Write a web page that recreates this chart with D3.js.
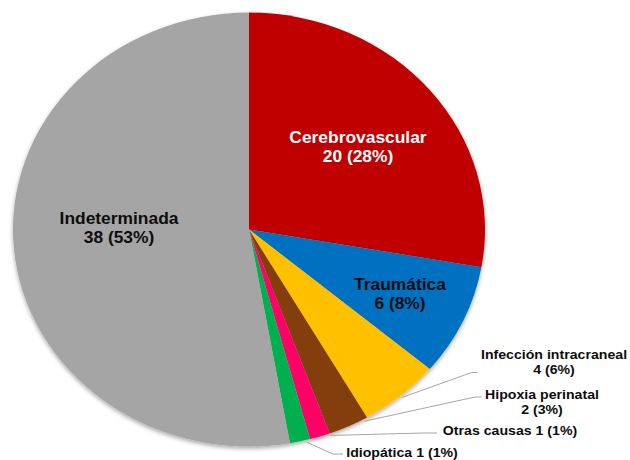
<!DOCTYPE html>
<html>
<head>
<meta charset="utf-8">
<script src="https://cdn.jsdelivr.net/npm/d3@7"></script>
<style>
  html, body { margin: 0; padding: 0; background: #ffffff; }
  svg { display: block; }
  text { font-family: "Liberation Sans", Arial, sans-serif; font-weight: bold; }
</style>
</head>
<body>
<svg id="chart" width="630" height="460"></svg>
<script>
// ---- data ----
const categories = ["Cerebrovascular", "Traumática", "Infección intracraneal", "Hipoxia perinatal", "Otras causas", "Idiopática", "Indeterminada"];
const values = [20, 6, 4, 2, 1, 1, 38];
const percentLabels = ["28%", "8%", "6%", "3%", "1%", "1%", "53%"];
const colors = ["#C00000", "#0070C0", "#FFC000", "#843C0C", "#FF0066", "#00B050", "#A5A5A5"];

// ---- layout (label placement, not data) ----
const labelLayout = [
  { x: 358, y: 143, lh: 18.5, inline: false, fill: "#ffffff", size: 16 },
  { x: 400, y: 290, lh: 19, inline: false, fill: "#0d0d0d", size: 16 },
  { x: 554, y: 359, lh: 15, inline: false, fill: "#0d0d0d", size: 13, leader: { f: 0.5, ex: 477.5, ey: 372.5, hx: 471.5 } },
  { x: 542, y: 399, lh: 14.5, inline: false, fill: "#0d0d0d", size: 13, leader: { f: 0.1, ex: 481.5, ey: 397, hx: 475 } },
  { x: 510, y: 435, lh: 0, inline: true, fill: "#0d0d0d", size: 13, leader: { f: 0.0, ex: 437, ey: 433, hx: 424 } },
  { x: 402, y: 457, lh: 0, inline: true, fill: "#0d0d0d", size: 13, leader: { f: 0.2, ex: 343, ey: 454, hx: 333 } },
  { x: 119, y: 224, lh: 19, inline: false, fill: "#0d0d0d", size: 16 }
];

const W = 630, H = 460;
const cx = 249, cy = 229.5, rx = 236, ry = 217;
const sx = rx / ry; // horizontal stretch of the picture

const svg = d3.select("#chart");

const defs = svg.append("defs");
const f = defs.append("filter").attr("id", "shadow")
  .attr("x", "-10%").attr("y", "-10%").attr("width", "120%").attr("height", "120%");
f.append("feDropShadow").attr("dx", 0).attr("dy", 2).attr("stdDeviation", 2)
  .attr("flood-color", "#000").attr("flood-opacity", 0.35);

const pie = d3.pie().sort(null).value(d => d);
const arcs = pie(values);
const arc = d3.arc().innerRadius(0).outerRadius(ry);

const outer = svg.append("g").attr("filter", "url(#shadow)");
const g = outer.append("g").attr("transform", `translate(${cx},${cy}) scale(${sx},1)`);

g.selectAll("path.slice")
  .data(arcs)
  .enter().append("path")
  .attr("class", "slice")
  .attr("d", arc)
  .attr("fill", (d, i) => colors[i]);

// leader lines
const edgePoint = (a, k) => [cx + rx * k * Math.sin(a), cy - ry * k * Math.cos(a)];
arcs.forEach((d, i) => {
  const L = labelLayout[i];
  if (!L.leader) return;
  const a = d.startAngle + L.leader.f * (d.endAngle - d.startAngle);
  const p = edgePoint(a, 1.01);
  svg.append("polyline")
    .attr("points", [[L.leader.ex, L.leader.ey], [L.leader.hx, L.leader.ey], p].map(q => q.join(",")).join(" "))
    .attr("fill", "none")
    .attr("stroke", "#a6a6a6")
    .attr("stroke-width", 1);
});

// labels
arcs.forEach((d, i) => {
  const L = labelLayout[i];
  const lines = L.inline
    ? [`${categories[i]} ${values[i]} (${percentLabels[i]})`]
    : [categories[i], `${values[i]} (${percentLabels[i]})`];
  lines.forEach((t, j) => {
    svg.append("text")
      .attr("transform", `translate(${L.x},${L.y + j * L.lh}) scale(${sx},1)`)
      .attr("text-anchor", "middle")
      .attr("font-size", L.size)
      .attr("fill", L.fill)
      .text(t);
  });
});
</script>
</body>
</html>
